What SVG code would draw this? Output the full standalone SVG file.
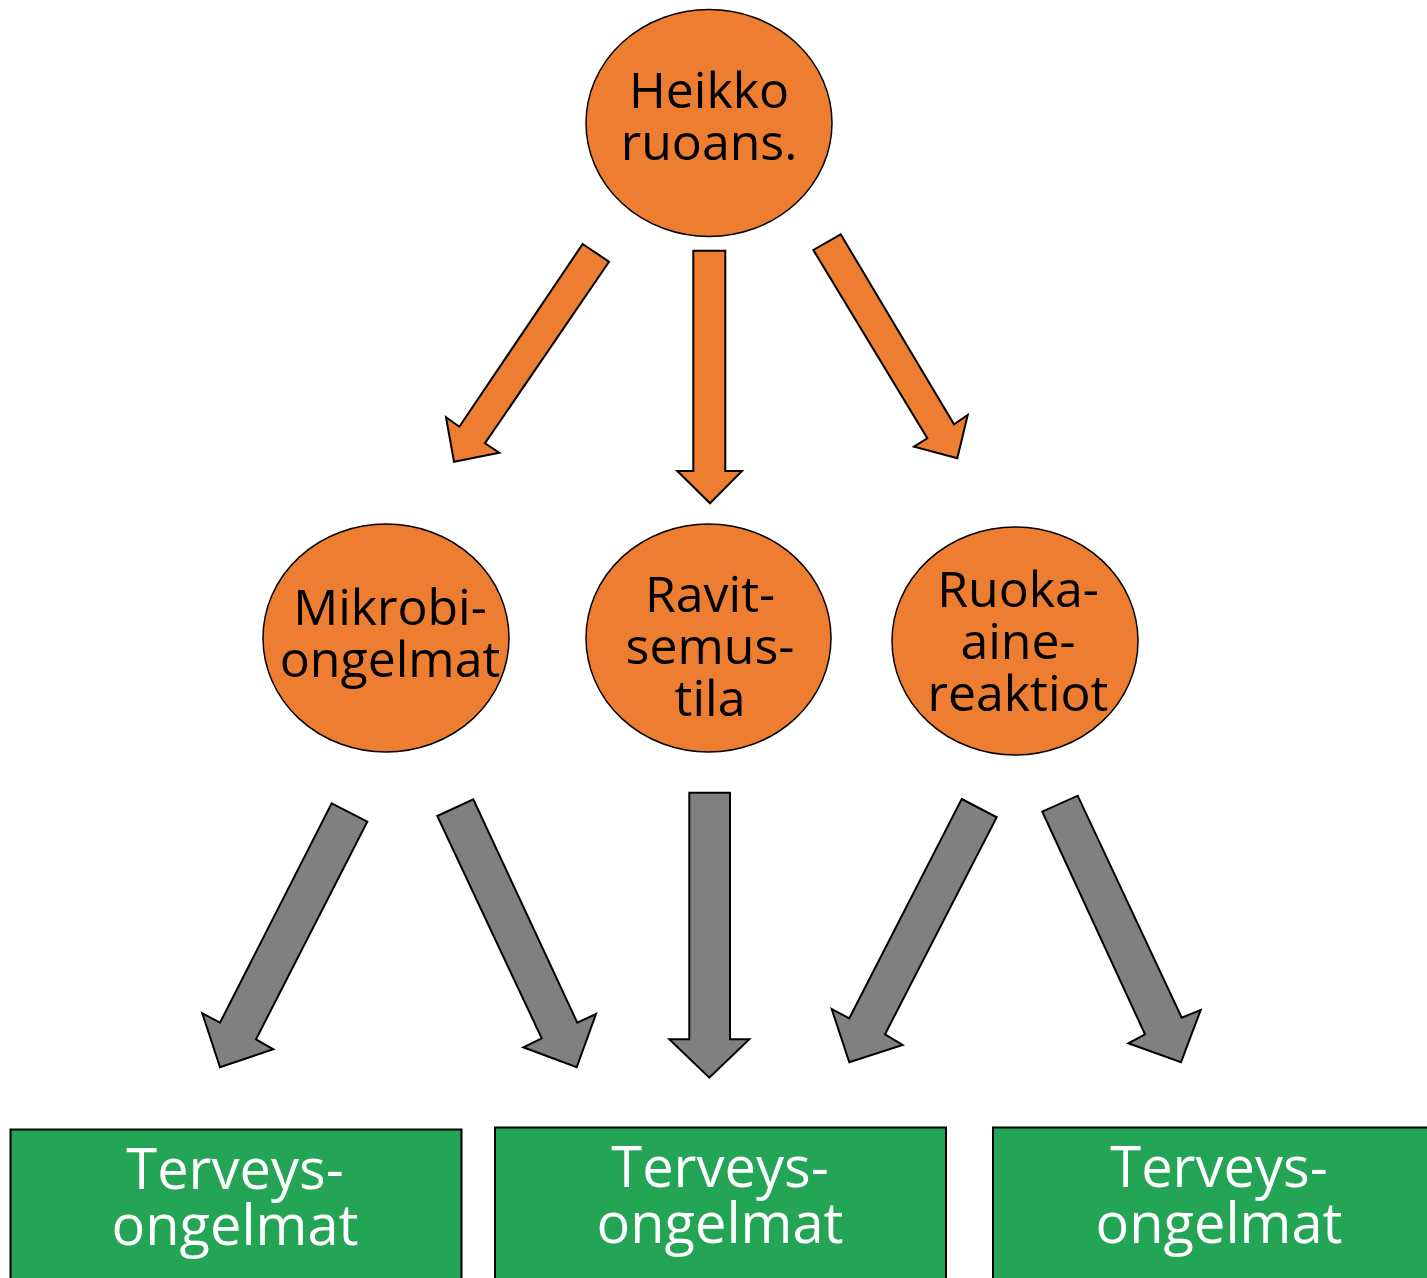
<svg xmlns="http://www.w3.org/2000/svg" width="1427" height="1278" viewBox="0 0 1427 1278">
<style>
.ell{fill:#ED7D31;stroke:#000;stroke-width:1.5}
.oa{fill:#ED7D31;stroke:#000;stroke-width:2;stroke-linejoin:miter}
.ga{fill:#808080;stroke:#000;stroke-width:2;stroke-linejoin:miter}
.box{fill:#24A455;stroke:#000;stroke-width:2}
.t{font-family:"Open Sans","DejaVu Sans",sans-serif;font-size:50px;fill:#000;text-anchor:middle}
.w{font-family:"Open Sans","DejaVu Sans",sans-serif;font-size:56px;fill:#fff;text-anchor:middle}
</style>
<rect width="1427" height="1278" fill="#fff"/>
<g id="connectors">
<polygon class="oa" points="582.7,244 609,261.7 485,443.3 499.3,452.7 454,461.7 446,417.3 459.3,426.7"/>
<polygon class="oa" points="693.3,250.7 725.3,250.7 725.3,471 742,471 710,503.3 677.3,471 693.3,471"/>
<polygon class="oa" points="813.3,250 840.7,234.3 954,424.3 967.7,415 957.3,458.3 914,446.7 927.3,438.3"/>
<polygon class="ga" points="331.7,803.3 367.3,821.7 256,1039.3 273.3,1049.3 220,1067.3 202.3,1013.3 220,1022.7"/>
<polygon class="ga" points="437.3,816 473.3,799.3 577.3,1022.7 596,1014 576.7,1067.3 523.3,1047.3 541.7,1038.3"/>
<polygon class="ga" points="689.3,792.7 730,792.7 730,1039.3 749.3,1039.3 709.3,1077.7 669.3,1039.3 689.3,1039.3"/>
<polygon class="ga" points="961.7,799 996.7,817.3 885,1034.3 902.7,1045 849.3,1062.3 831.7,1009 849.3,1018.3"/>
<polygon class="ga" points="1042.3,811.7 1077.7,795.7 1181.7,1017.7 1200.7,1010 1181,1062.3 1128.3,1043.3 1145,1034.3"/>
</g>
<g id="heikko">
<ellipse class="ell" cx="709" cy="123" rx="123" ry="113.5"/>
<text class="t" x="709" y="108">Heikko</text>
<text class="t" x="709" y="160">ruoans.</text>
</g>
<g id="mikrobi">
<ellipse class="ell" cx="386" cy="638" rx="123" ry="114"/>
<text class="t" x="390" y="625">Mikrobi-</text>
<text class="t" x="390" y="677">ongelmat</text>
</g>
<g id="ravit">
<ellipse class="ell" cx="708.5" cy="638" rx="122.5" ry="114"/>
<text class="t" x="710" y="612">Ravit-</text>
<text class="t" x="710" y="664">semus-</text>
<text class="t" x="710" y="716">tila</text>
</g>
<g id="ruoka">
<ellipse class="ell" cx="1015" cy="641" rx="123" ry="114"/>
<text class="t" x="1018" y="607">Ruoka-</text>
<text class="t" x="1018" y="659">aine-</text>
<text class="t" x="1018" y="711">reaktiot</text>
</g>
<g id="terveys1">
<rect class="box" x="10.5" y="1129.5" width="451" height="160"/>
<text class="w" x="235" y="1189">Terveys-</text>
<text class="w" x="235" y="1245">ongelmat</text>
</g>
<g id="terveys2">
<rect class="box" x="495" y="1127.5" width="451" height="160"/>
<text class="w" x="720" y="1187">Terveys-</text>
<text class="w" x="720" y="1243">ongelmat</text>
</g>
<g id="terveys3">
<rect class="box" x="993" y="1127.5" width="451" height="160"/>
<text class="w" x="1219" y="1187">Terveys-</text>
<text class="w" x="1219" y="1243">ongelmat</text>
</g>
</svg>
